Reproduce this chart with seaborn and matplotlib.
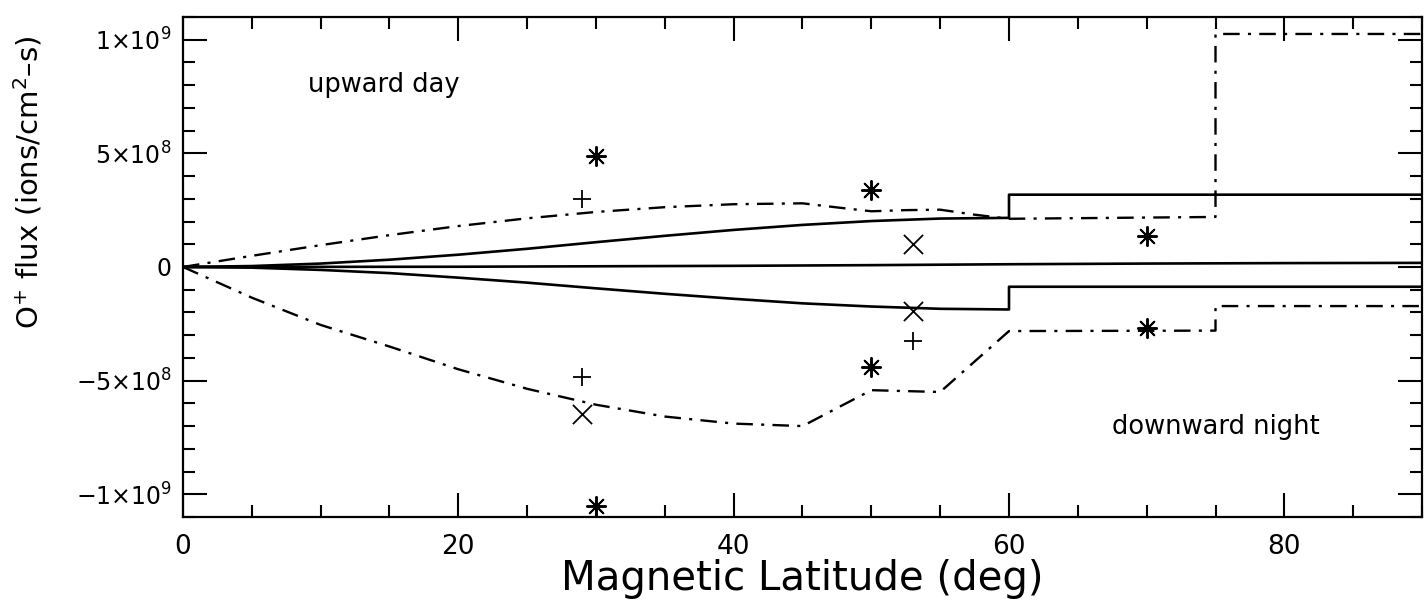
import matplotlib
matplotlib.use("Agg")
import matplotlib.pyplot as plt
from matplotlib.ticker import MultipleLocator, FixedLocator
import seaborn as sns

# ---- model curves: magnetic latitude (deg) vs O+ flux (ions/cm^2-s) ----
lat_up_solid = [0, 5, 10, 15, 20, 25, 30, 35, 40, 45, 50, 55, 60, 60, 90]
flux_up_solid = [0, 0.04e8, 0.15e8, 0.32e8, 0.54e8, 0.80e8, 1.09e8, 1.37e8,
                 1.63e8, 1.85e8, 2.02e8, 2.13e8, 2.16e8, 3.18e8, 3.18e8]

lat_mid_solid = [0, 10, 20, 30, 40, 50, 60, 70, 80, 90]
flux_mid_solid = [0, 0.005e8, 0.01e8, 0.03e8, 0.05e8, 0.08e8, 0.12e8,
                  0.15e8, 0.17e8, 0.18e8]

lat_low_solid = [0, 5, 10, 15, 20, 25, 30, 35, 40, 45, 50, 55, 60, 60, 90]
flux_low_solid = [0, -0.03e8, -0.13e8, -0.27e8, -0.47e8, -0.69e8, -0.94e8,
                  -1.18e8, -1.40e8, -1.60e8, -1.74e8, -1.84e8, -1.87e8,
                  -0.87e8, -0.87e8]

lat_up_dash = [0, 5, 10, 15, 20, 25, 30, 35, 40, 45, 47.5, 50, 52.5, 55,
               57.5, 60, 75, 75, 90]
flux_up_dash = [0, 0.49e8, 0.96e8, 1.40e8, 1.80e8, 2.14e8, 2.42e8, 2.63e8,
                2.76e8, 2.80e8, 2.62e8, 2.45e8, 2.50e8, 2.52e8, 2.30e8,
                2.12e8, 2.20e8, 10.25e8, 10.25e8]

lat_low_dash = [0, 5, 10, 15, 20, 25, 30, 35, 40, 45, 50, 55, 60, 75, 75, 90]
flux_low_dash = [0, -1.35e8, -2.55e8, -3.50e8, -4.50e8, -5.36e8, -6.06e8,
                 -6.58e8, -6.89e8, -7.00e8, -5.42e8, -5.50e8, -2.82e8,
                 -2.80e8, -1.72e8, -1.72e8]

# ---- observations ----
lat_star = [30, 50, 70, 30, 50, 70]
flux_star = [4.9e8, 3.4e8, 1.35e8, -10.5e8, -4.4e8, -2.7e8]

lat_plus = [29, 29, 53]
flux_plus = [3.0e8, -4.85e8, -3.25e8]

lat_cross = [29, 53, 53]
flux_cross = [-6.45e8, 1.0e8, -1.92e8]

y_ticks = [-1e9, -5e8, 0, 5e8, 1e9]
y_tick_labels = ["\u22121\u00d710$^{9}$", "\u22125\u00d710$^{8}$", "0",
                 "5\u00d710$^{8}$", "1\u00d710$^{9}$"]
x_ticks = [0, 20, 40, 60, 80]

sns.set_style("ticks")
plt.rcParams["font.family"] = ["DejaVu Sans"]
plt.rcParams["mathtext.fontset"] = "dejavusans"
plt.rcParams["text.color"] = "black"
plt.rcParams["axes.labelcolor"] = "black"
plt.rcParams["xtick.color"] = "black"
plt.rcParams["ytick.color"] = "black"

fig = plt.figure(figsize=(14.24, 6.04), dpi=100)
ax = fig.add_axes([0.1285, 0.144, 0.8701, 0.828])

solid_kw = dict(color="black", linewidth=1.9, estimator=None, sort=False)
dash_kw = dict(color="black", linewidth=1.7, estimator=None, sort=False,
               linestyle=(0, (7, 3.5, 1.3, 3.5)))

sns.lineplot(x=lat_up_solid, y=flux_up_solid, ax=ax, **solid_kw)
sns.lineplot(x=lat_mid_solid, y=flux_mid_solid, ax=ax, **solid_kw)
sns.lineplot(x=lat_low_solid, y=flux_low_solid, ax=ax, **solid_kw)
sns.lineplot(x=lat_up_dash, y=flux_up_dash, ax=ax, **dash_kw)
sns.lineplot(x=lat_low_dash, y=flux_low_dash, ax=ax, **dash_kw)

sns.scatterplot(x=lat_star, y=flux_star, ax=ax, marker=(8, 2, 0), s=190,
                color="black", linewidth=1.4, zorder=5)
sns.scatterplot(x=lat_plus, y=flux_plus, ax=ax, marker="+", s=170,
                color="black", linewidth=1.3, zorder=5)
sns.scatterplot(x=lat_cross, y=flux_cross, ax=ax, marker="x", s=190,
                color="black", linewidth=1.3, zorder=5)

ax.text(9.1, 7.7e8, "upward day", fontsize=18.5, va="baseline", ha="left",
        color="black")
ax.text(67.5, -7.34e8, "downward night", fontsize=18.5, va="baseline",
        ha="left", color="black")

ax.set_xlim(0, 90)
ax.set_ylim(-1.1e9, 1.1e9)
ax.xaxis.set_major_locator(FixedLocator(x_ticks))
ax.xaxis.set_minor_locator(MultipleLocator(5))
ax.yaxis.set_major_locator(FixedLocator(y_ticks))
ax.yaxis.set_minor_locator(MultipleLocator(1e8))
ax.set_xticklabels([str(v) for v in x_ticks])
ax.set_yticklabels(y_tick_labels)

ax.tick_params(which="both", direction="in", top=True, right=True,
               width=1.5, color="black", labelcolor="black")
ax.tick_params(which="major", length=17)
ax.tick_params(which="minor", length=8.5)
ax.tick_params(axis="x", which="major", labelsize=19, pad=12)
ax.tick_params(axis="y", which="major", labelsize=17, pad=8)

for sp in ax.spines.values():
    sp.set_linewidth(1.6)
    sp.set_color("black")

ax.set_xlabel("Magnetic Latitude (deg)", fontsize=29, color="black")
ax.xaxis.set_label_coords(0.5, -0.084)
ax.set_ylabel("O$^{+}$ flux (ions/cm$^{2}$\u2013s)", fontsize=21,
              color="black")
ax.yaxis.set_label_coords(-0.112, 0.669)

fig.savefig("out.png", dpi=100)
